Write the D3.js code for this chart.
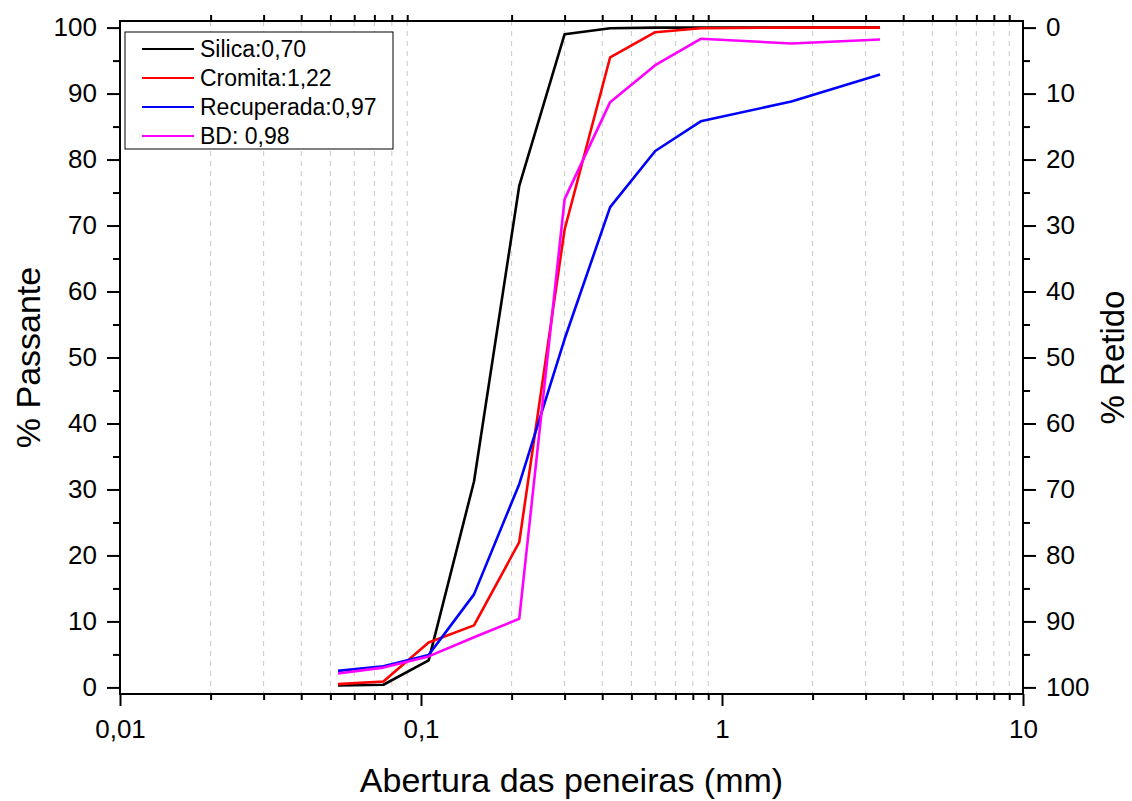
<!DOCTYPE html>
<html>
<head>
<meta charset="utf-8">
<script src="https://cdn.jsdelivr.net/npm/d3@7"></script>
<style>
  body { margin: 0; background: white; }
  svg text { font-family: Arial, "Liberation Sans", Helvetica, sans-serif; fill: black; }
</style>
</head>
<body>
<div id="chart"></div>
<script>
// sieve openings (mm) and % passing for each sample
var aberturas = [0.053, 0.075, 0.106, 0.15, 0.212, 0.3, 0.425, 0.6, 0.85, 1.7, 3.35];
var silica     = [0.3, 0.4, 4.1, 31.2, 76, 99, 99.9, 100, 100, 100, 100];
var cromita    = [0.5, 0.9, 6.8, 9.4, 22, 69.4, 95.5, 99.3, 99.9, 100, 100];
var recuperada = [2.5, 3.2, 4.9, 14.1, 30.8, 52.8, 72.8, 81.3, 85.8, 88.8, 92.9];
var bd         = [2.1, 3.0, 4.7, 7.6, 10.4, 74, 88.7, 94.3, 98.3, 97.6, 98.2];

var nomes = ["Silica:0,70", "Cromita:1,22", "Recuperada:0,97", "BD: 0,98"];
var cores = ["#000000", "#ff0000", "#0000ff", "#ff00ff"];
var series = [silica, cromita, recuperada, bd];

var xMajor = [0.01, 0.1, 1, 10];
var xMajorLabels = ["0,01", "0,1", "1", "10"];

var width = 1132, height = 801;
/* note: "top" is reserved on window, so use plot* names */
var plotLeft = 120, plotRight = 1023, plotTop = 21, plotBottom = 694;

var svg = d3.select("#chart").append("svg")
    .attr("width", width)
    .attr("height", height);

var x = d3.scaleLog().domain([0.01, 10]).range([plotLeft, plotRight]);
var y = d3.scaleLinear().domain([-1, 101]).range([plotBottom, plotTop]);
var yR = d3.scaleLinear().domain([-1, 101]).range([plotTop, plotBottom]);

// minor ticks of the log axis (2..9 of each decade)
var xMinor = [];
xMajor.slice(0, 3).forEach(function(d) {
  for (var k = 2; k <= 9; k++) xMinor.push(d * k);
});

/* dashed grid at minor positions only */
svg.append("g").selectAll("line")
    .data(xMinor)
  .enter().append("line")
    .attr("x1", function(d) { return x(d); })
    .attr("x2", function(d) { return x(d); })
    .attr("y1", plotTop)
    .attr("y2", plotBottom)
    .style("stroke", "#c8c8c8")
    .style("stroke-width", 1)
    .style("stroke-dasharray", "5,5");

// data lines
var line = d3.line()
    .x(function(d, i) { return x(aberturas[i]); })
    .y(function(d) { return y(d); });

svg.append("g").selectAll("path")
    .data(series)
  .enter().append("path")
    .attr("d", line)
    .style("fill", "none")
    .style("stroke", function(d, i) { return cores[i]; })
    .style("stroke-width", 2.6)
    .style("stroke-linejoin", "round");

// axes
function styleAxis(g) {
  g.select(".domain").remove();
  g.selectAll(".tick line").style("stroke", "black").style("stroke-width", 2);
  g.selectAll(".tick text").style("font-size", "26px");
}

var yMinorVals = d3.range(5, 100, 10);

svg.append("g")
    .attr("transform", "translate(" + plotLeft + ",0)")
    .call(d3.axisLeft(y).tickValues(yMinorVals).tickSize(7).tickFormat(""))
    .call(styleAxis);
svg.append("g")
    .attr("transform", "translate(" + plotLeft + ",0)")
    .call(d3.axisLeft(y).tickValues(d3.range(0, 101, 10)).tickSize(13).tickPadding(10))
    .call(styleAxis);

svg.append("g")
    .attr("transform", "translate(" + plotRight + ",0)")
    .call(d3.axisRight(yR).tickValues(yMinorVals).tickSize(7).tickFormat(""))
    .call(styleAxis);
svg.append("g")
    .attr("transform", "translate(" + plotRight + ",0)")
    .call(d3.axisRight(yR).tickValues(d3.range(0, 101, 10)).tickSize(13).tickPadding(10))
    .call(styleAxis);

svg.append("g")
    .attr("transform", "translate(0," + plotBottom + ")")
    .call(d3.axisBottom(x).tickValues(xMinor).tickSize(6).tickFormat(""))
    .call(styleAxis);
svg.append("g")
    .attr("transform", "translate(0," + plotBottom + ")")
    .call(d3.axisBottom(x).tickValues(xMajor).tickSize(12).tickPadding(14)
      .tickFormat(function(d, i) { return xMajorLabels[i]; }))
    .call(styleAxis);

svg.append("g")
    .attr("transform", "translate(0," + plotTop + ")")
    .call(d3.axisTop(x).tickValues(xMinor).tickSize(6).tickFormat(""))
    .call(styleAxis);

// frame
svg.append("rect")
    .attr("x", plotLeft).attr("y", plotTop)
    .attr("width", plotRight - plotLeft).attr("height", plotBottom - plotTop)
    .style("fill", "none")
    .style("stroke", "black")
    .style("stroke-width", 2);

// axis titles
svg.append("text")
    .attr("x", (plotLeft + plotRight) / 2).attr("y", 792)
    .attr("text-anchor", "middle")
    .style("font-size", "34px")
    .text("Abertura das peneiras (mm)");

svg.append("text")
    .attr("transform", "translate(40," + (plotTop + plotBottom) / 2 + ") rotate(-90)")
    .attr("text-anchor", "middle")
    .style("font-size", "34px")
    .text("% Passante");

svg.append("text")
    .attr("transform", "translate(1124," + (plotTop + plotBottom) / 2 + ") rotate(-90)")
    .attr("text-anchor", "middle")
    .style("font-size", "33px")
    .text("% Retido");

// legend
var legend = svg.append("g");
legend.append("rect")
    .attr("x", 125).attr("y", 32)
    .attr("width", 268).attr("height", 117)
    .style("fill", "white")
    .style("stroke", "black")
    .style("stroke-width", 1);

var item = legend.selectAll("g.item")
    .data(nomes)
  .enter().append("g")
    .attr("class", "item")
    .attr("transform", function(d, i) { return "translate(0," + (49 + i * 29) + ")"; });

item.append("line")
    .attr("x1", 142).attr("x2", 194)
    .style("stroke", function(d, i) { return cores[i]; })
    .style("stroke-width", 2.2);

item.append("text")
    .attr("x", 200)
    .attr("dy", "0.35em")
    .style("font-size", "23px")
    .text(function(d) { return d; });
</script>
</body>
</html>
